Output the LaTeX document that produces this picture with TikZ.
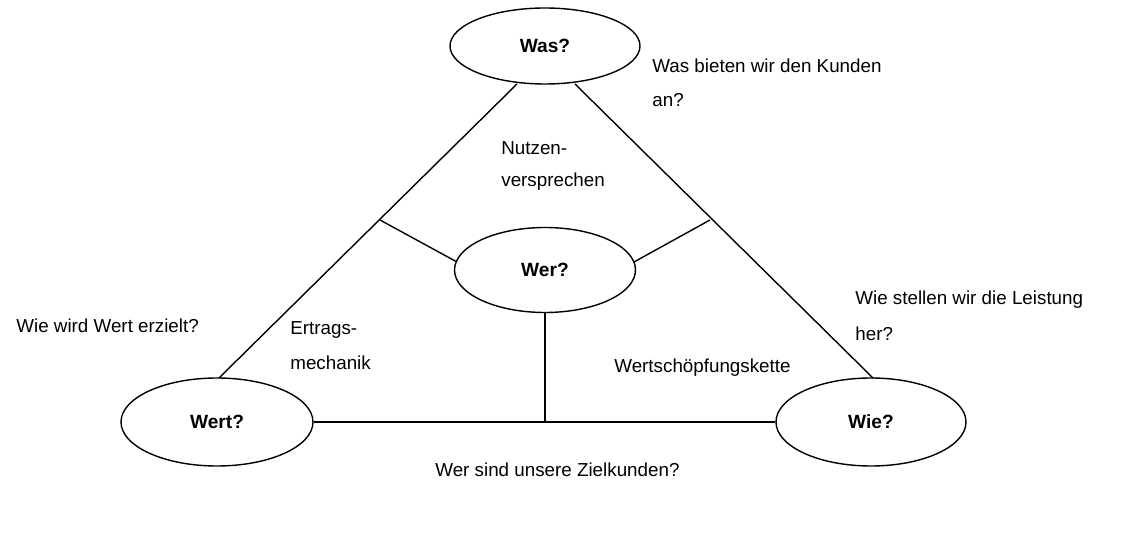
\documentclass[tikz,border=0pt]{standalone}
\usepackage{fontspec}
\setmainfont{Liberation Sans}
\usetikzlibrary{shapes.geometric}
\begin{document}
\begin{tikzpicture}[x=0.02cm,y=-0.02cm,
  ell/.style={draw,thick,ellipse,inner sep=0pt,font=\bfseries\fontsize{10.9}{13}\selectfont},
  lbl/.style={anchor=west,inner sep=0pt,font=\fontsize{10.7}{13}\selectfont},
  ln/.style={thick}]
\useasboundingbox (0,0) rectangle (1126,540);
\node[ell,minimum width=190*0.02cm,minimum height=76*0.02cm] (was) at (545,46) {Was?};
\node[ell,minimum width=181*0.02cm,minimum height=85*0.02cm] (wer) at (545,270) {Wer?};
\node[ell,minimum width=192*0.02cm,minimum height=88*0.02cm] (wert) at (217,422) {Wert?};
\node[ell,minimum width=190*0.02cm,minimum height=88*0.02cm] (wie) at (871,422) {Wie?};
\coordinate (a1) at (517,84); \coordinate (a2) at (219,378);
\coordinate (b1) at (575,84); \coordinate (b2) at (873,378);
\coordinate (ml) at (380,220); \coordinate (mr) at (710,220);
\coordinate (mb) at (545,423);
\draw[ln] (a1) -- (a2);
\draw[ln] (b1) -- (b2);
\draw[ln] (wert.east) -- (wie.west);
\draw[ln] (wer.south) -- (mb);
\draw[ln] (ml) -- (457,262);
\draw[ln] (mr) -- (634,262);
\node[lbl] (t1) at (652,66) {Was bieten wir den Kunden};
\node[lbl] (t1b) at (652,100) {an?};
\node[lbl] (t2) at (501,148) {Nutzen-};
\node[lbl] (t2b) at (501,182) {versprechen};
\node[lbl] (t3) at (16,326) {Wie wird Wert erzielt?};
\node[lbl] (t4) at (290,330) {Ertrags-};
\node[lbl] (t4b) at (290,363) {mechanik};
\node[lbl] (t5) at (614,368) {Wertschöpfungskette};
\node[lbl] (t6) at (855,300) {Wie stellen wir die Leistung};
\node[lbl] (t6b) at (855,334) {her?};
\node[lbl] (t7) at (435,470) {Wer sind unsere Zielkunden?};
\end{tikzpicture}
\end{document}
